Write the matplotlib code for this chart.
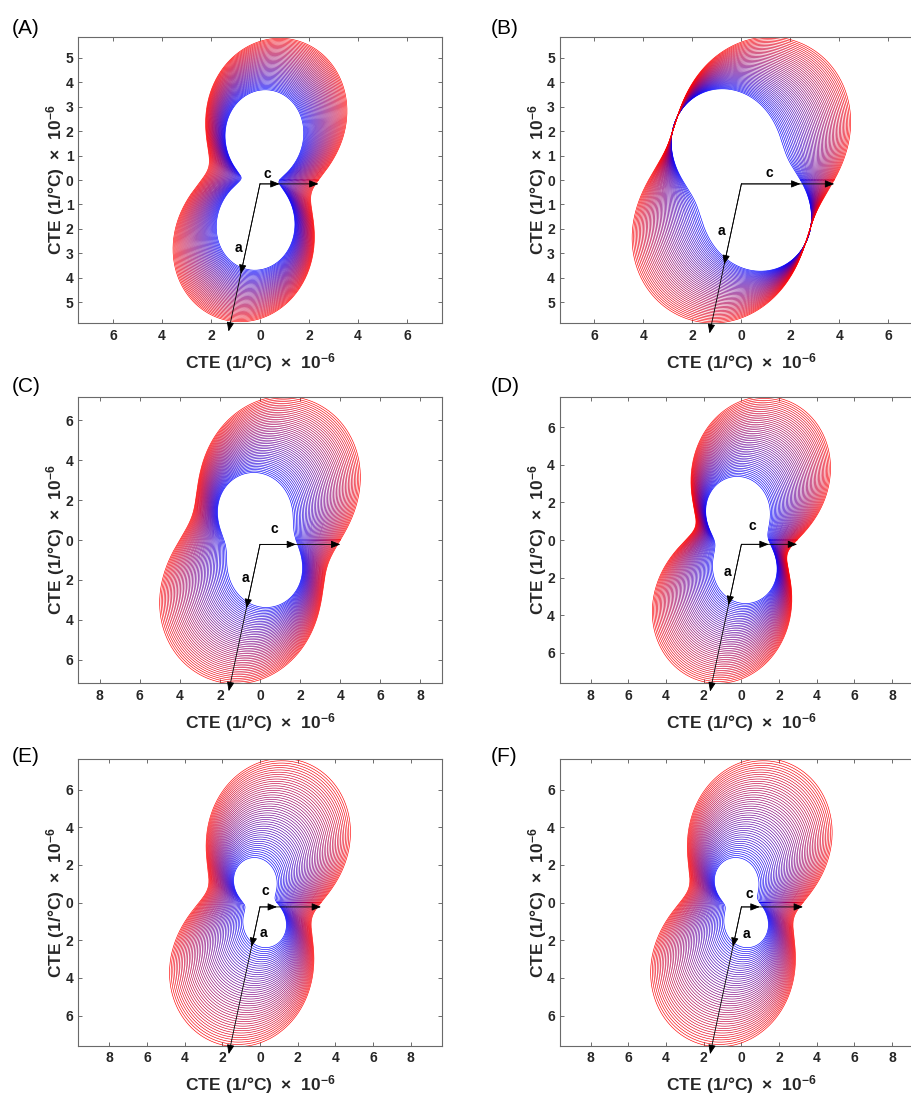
import numpy as np
import matplotlib
matplotlib.use('Agg')
import matplotlib.pyplot as plt
from matplotlib.ticker import FuncFormatter

plt.rcParams['font.family'] = ['Liberation Sans', 'DejaVu Sans']
plt.rcParams['font.weight'] = 'bold'
plt.rcParams['mathtext.fontset'] = 'custom'
plt.rcParams['mathtext.rm'] = 'Liberation Sans'
plt.rcParams['mathtext.bf'] = 'Liberation Sans:bold'

panel_names = ['(A)', '(B)', '(C)', '(D)', '(E)', '(F)']

# CTE tensor in the a-c plane (x along c), units 1e-6 /°C,
# at the lowest and the highest temperature of each data set
alpha_xx_low = [0.80, 2.41, 1.80, 1.45, 0.90, 0.97]
alpha_yy_low = [3.68, 3.59, 3.35, 3.36, 2.35, 2.35]
alpha_xy_low = [0.28, -0.69, -0.30, -0.24, -0.34, -0.34]
alpha_xx_high = [2.39, 3.79, 4.01, 2.96, 3.24, 3.27]
alpha_yy_high = [5.68, 5.65, 6.99, 7.38, 7.45, 7.45]
alpha_xy_high = [0.895, 1.03, 1.18, 1.41, 1.30, 1.30]

# CTE along the a axis at the lowest / highest temperature
alpha_a_low = [3.77, 3.37, 3.26, 3.30, 2.17, 2.17]
alpha_a_high = [6.18, 6.26, 7.51, 7.99, 7.99, 7.99]
a_axis_angle = 258.0  # direction of a in the plot, degrees from c

temps = np.arange(100, 551, 10)

# axis ranges and ticks
xlims = [7.42, 7.42, 9.07, 9.65, 9.65, 9.65]
ylims = [5.87, 5.87, 7.17, 7.61, 7.61, 7.61]
xticks = [np.arange(-6, 7, 2)] * 2 + [np.arange(-8, 9, 2)] * 4
yticks = [np.arange(-5, 6, 1)] * 2 + [np.arange(-6, 7, 2)] * 4

# label positions for the 'c' and 'a' arrows
c_label_pos = [(0.29, 0.25), (1.13, 0.28), (0.73, 0.53), (0.58, 0.76), (0.28, 0.62), (0.44, 0.44)]
a_label_pos = [(-0.90, -2.79), (-0.83, -2.07), (-0.73, -1.88), (-0.74, -1.68), (0.18, -1.61), (0.27, -1.68)]
arrow_y0 = [-0.16, -0.16, -0.22, -0.23, -0.23, -0.23]

W, H = 912, 1095
fig = plt.figure(figsize=(W / 100, H / 100), dpi=100)

col_left = [78.3, 559.7]
row_top = [36.7, 396.7, 759.3]
ax_w, ax_h = 363.4, 286.6
letter_base = [34.5, 392.5, 762.5]
letter_x = [11.7, 490.7]

label = r'$\mathbf{CTE\ (1/°C)}\ \times\ \mathbf{10^{-6}}$'
txt_col = '#262626'

theta = np.linspace(0, 2 * np.pi, 721)
cos, sin = np.cos(theta), np.sin(theta)
abs_fmt = FuncFormatter(lambda v, p: f'{abs(v):g}')

for i, name in enumerate(panel_names):
    row, col = divmod(i, 2)
    ax = fig.add_axes([col_left[col] / W, 1 - (row_top[row] + ax_h) / H, ax_w / W, ax_h / H])

    # one closed curve per temperature, blue (cold) to red (hot)
    frac = (temps - temps[0]) / (temps[-1] - temps[0])
    for f in frac:
        axx = alpha_xx_low[i] + f * (alpha_xx_high[i] - alpha_xx_low[i])
        ayy = alpha_yy_low[i] + f * (alpha_yy_high[i] - alpha_yy_low[i])
        axy = alpha_xy_low[i] + f * (alpha_xy_high[i] - alpha_xy_low[i])
        r = axx * cos ** 2 + ayy * sin ** 2 + 2 * axy * sin * cos
        ax.plot(r * cos, r * sin, color=(f, 0, 1 - f), lw=0.45)

    # crystal axes arrows
    y0 = arrow_y0[i]
    ang = np.deg2rad(a_axis_angle)
    aprops = dict(arrowstyle='-|>,head_length=0.7,head_width=0.28', color='k', lw=0.6,
                  shrinkA=0, shrinkB=0, mutation_scale=8)
    for L in (alpha_xx_high[i], alpha_xx_low[i]):
        ax.annotate('', xy=(L, y0), xytext=(0, y0), arrowprops=aprops, annotation_clip=False)
    for L in (alpha_a_high[i], alpha_a_low[i]):
        ax.annotate('', xy=(L * np.cos(ang), y0 + L * np.sin(ang)), xytext=(0, y0),
                    arrowprops=aprops, annotation_clip=False)
    ax.text(*c_label_pos[i], 'c', fontsize=10, ha='center', va='center', color='k')
    ax.text(*a_label_pos[i], 'a', fontsize=10, ha='center', va='center', color='k')

    ax.set_xlim(-xlims[i], xlims[i])
    ax.set_ylim(-ylims[i], ylims[i])
    ax.set_xticks(xticks[i])
    ax.set_yticks(yticks[i])
    ax.xaxis.set_major_formatter(abs_fmt)
    ax.yaxis.set_major_formatter(abs_fmt)
    ax.tick_params(direction='in', length=3, width=0.6, top=True, right=True,
                   labelsize=10, color='#555555', labelcolor=txt_col)
    ax.tick_params(axis='x', pad=4)
    ax.tick_params(axis='y', pad=3.5)
    for sp in ax.spines.values():
        sp.set_color('#6a6a6a')
        sp.set_linewidth(0.8)

    ax.set_xlabel(label, fontsize=12.5, color=txt_col)
    ax.set_ylabel(label, fontsize=12.5, color=txt_col)
    ax.xaxis.set_label_coords(0.5, -0.096)
    ax.yaxis.set_label_coords(-0.030, 0.5)
    ax.yaxis.label.set_va('bottom')

    fig.text(letter_x[col] / W, 1 - letter_base[row] / H, name, fontsize=15,
             fontweight='normal', ha='left', va='baseline', color='k')

fig.savefig('out.png', dpi=100)
